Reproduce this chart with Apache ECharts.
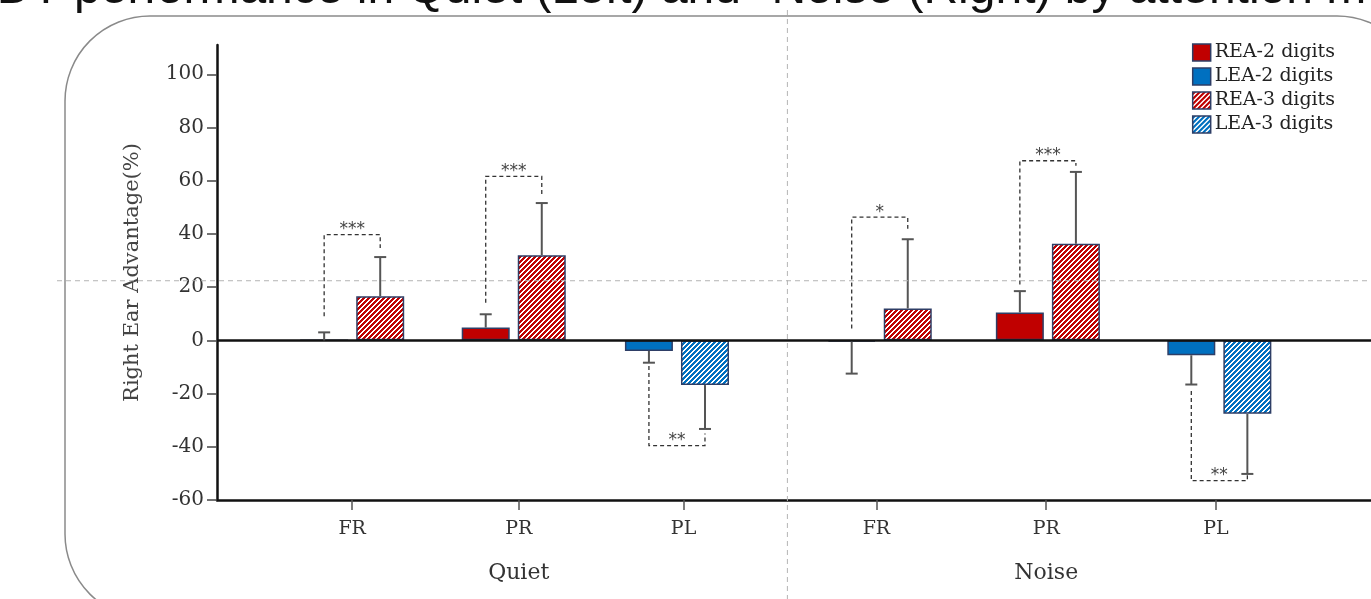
<!DOCTYPE html>
<html>
<head>
<meta charset="utf-8">
<script src="https://cdn.jsdelivr.net/npm/echarts@6/dist/echarts.min.js"></script>
<style>
  html, body { margin: 0; padding: 0; background: #fff; }
  #chart { width: 1371px; height: 599px; }
</style>
</head>
<body>
<div id="chart"></div>
<script>
// Right-ear advantage (%) in the dichotic digits test, by listening condition and attention mode.
const conditions = ['Quiet', 'Noise'];
const modes = ['FR', 'PR', 'PL'];
const seriesNames = ['REA-2 digits', 'LEA-2 digits', 'REA-3 digits', 'LEA-3 digits'];

// Bar order: Quiet FR, PR, PL, Noise FR, PR, PL (null = no bar in that slot)
const rea2Mean = [0, 4.8, null, -0.5, 10.5, null];
const rea2Sd   = [3.0, 5.0, null, 12.0, 8.0, null];
const lea2Mean = [null, null, -4.0, null, null, -5.6];
const lea2Sd   = [null, null, 4.4, null, null, 11.0];
const rea3Mean = [16.6, 32.0, null, 12.0, 36.3, null];
const rea3Sd   = [14.7, 19.6, null, 26.0, 27.0, null];
const lea3Mean = [null, null, -16.8, null, null, -27.6];
const lea3Sd   = [null, null, 16.5, null, null, 22.6];

// Significance brackets between the 2-digit and 3-digit bars of each slot
const sigLabel    = ['***', '***', '**', '*', '***', '**'];
const sigLevel    = [39.7, 61.6, -39.6, 46.3, 67.5, -52.7];
const sigLeftEnd  = [9.1, 14.1, -9.6, 4.5, 21.0, -19.0];
const sigRightEnd = [34.7, 54.7, -35.0, 41.9, 65.6, -49.6];

const yTicks = [-60, -40, -20, 0, 20, 40, 60, 80, 100];

// ---- layout along the x scale (0..X_MAX) ----
const X_MAX = 7;
const tickPos = [0.82, 1.83, 2.83, 4.00, 5.03, 6.06];
const slotPos = [0.82, 1.80, 2.79, 4.02, 5.04, 6.08];
const pairOffset = 0.17;
const dividerPos = 3.46;
const guideLevel = 22.4;

const RED = '#c00000';
const BLUE = '#0070c0';
const EDGE = '#2e3e66';
const SERIF = '"DejaVu Serif", serif';

// diagonal "////" stripes used for the 3-digit bars
function hatch(rgb) {
  const s = 5;
  const c = document.createElement('canvas');
  c.width = s; c.height = s;
  const g = c.getContext('2d');
  const img = g.createImageData(s, s);
  for (let y = 0; y < s; y++) {
    for (let x = 0; x < s; x++) {
      const i = (y * s + x) * 4;
      const on = (x + y) % s < 3;
      img.data[i] = on ? rgb[0] : 255;
      img.data[i + 1] = on ? rgb[1] : 255;
      img.data[i + 2] = on ? rgb[2] : 255;
      img.data[i + 3] = 255;
    }
  }
  g.putImageData(img, 0, 0);
  return { image: c, repeat: 'repeat' };
}

function bars(means, side) {
  const out = [];
  means.forEach((m, i) => {
    if (m != null) out.push([slotPos[i] + side * pairOffset, m]);
  });
  return out;
}

const errorData = [];
[[rea2Mean, rea2Sd, -1], [lea2Mean, lea2Sd, -1], [rea3Mean, rea3Sd, 1], [lea3Mean, lea3Sd, 1]]
  .forEach(([means, sds, side]) => {
    means.forEach((m, i) => {
      if (m == null) return;
      const dir = m < 0 ? -1 : 1;
      errorData.push([slotPos[i] + side * pairOffset, m, m + dir * sds[i]]);
    });
  });

const sigData = sigLabel.map((_, i) => [
  slotPos[i] - pairOffset, slotPos[i] + pairOffset, sigLevel[i], sigLeftEnd[i], sigRightEnd[i]
]);

function tickIndex(v) {
  let best = 0;
  tickPos.forEach((t, i) => { if (Math.abs(t - v) < Math.abs(tickPos[best] - v)) best = i; });
  return best;
}

const chart = echarts.init(document.getElementById('chart'), null, { renderer: 'canvas' });

function barSeries(name, data, color) {
  return {
    type: 'bar', name, data,
    barWidth: 48, barGap: '-100%',
    itemStyle: { color, borderColor: EDGE, borderWidth: 1.5 },
    z: 2
  };
}

const rea2 = barSeries(seriesNames[0], bars(rea2Mean, -1), RED);
rea2.markLine = {
  silent: true, symbol: 'none', animation: false,
  label: { show: false },
  lineStyle: { color: '#111', width: 2.5, type: 'solid' },
  data: [{ yAxis: 0 }]
};

chart.setOption({
  animation: false,
  backgroundColor: '#fff',
  grid: { left: 217, right: 0, top: 45, bottom: 99, containLabel: false, outerBoundsMode: 'none' },
  legend: {
    data: seriesNames, orient: 'vertical', right: 31, top: 38,
    icon: 'rect', itemWidth: 18, itemHeight: 17, itemGap: 5,
    selectedMode: false,
    itemStyle: { borderColor: EDGE, borderWidth: 1.5 },
    textStyle: { fontFamily: SERIF, fontSize: 19, lineHeight: 19, color: '#222', padding: [0, 0, 0, -1] }
  },
  xAxis: {
    type: 'value', min: 0, max: X_MAX,
    splitLine: { show: false },
    axisLine: { show: true, onZero: false, lineStyle: { color: '#111', width: 2.5 } },
    axisTick: { show: true, customValues: tickPos, length: 10, lineStyle: { color: '#555', width: 1.5 } },
    axisLabel: {
      customValues: tickPos, margin: 17,
      fontFamily: SERIF, fontSize: 19, color: '#333', lineHeight: 24,
      formatter: (v) => {
        const i = tickIndex(v);
        const mode = modes[i % 3];
        return i % 3 === 1 ? mode + '\n{grp|' + conditions[Math.floor(i / 3)] + '}' : mode;
      },
      rich: { grp: { fontFamily: SERIF, fontSize: 22, color: '#333', lineHeight: 64 } }
    }
  },
  yAxis: {
    type: 'value', min: -60, max: 111,
    name: 'Right Ear Advantage(%)', nameLocation: 'middle', nameGap: 74,
    nameTextStyle: { fontFamily: SERIF, fontSize: 21, color: '#444' },
    splitLine: { show: false },
    axisLine: { show: true, lineStyle: { color: '#111', width: 2.5 } },
    axisTick: { show: true, customValues: yTicks, length: 10, lineStyle: { color: '#444', width: 1.5 } },
    axisLabel: { customValues: yTicks, margin: 13, fontFamily: SERIF, fontSize: 20, color: '#333' }
  },
  series: [
    rea2,
    barSeries(seriesNames[1], bars(lea2Mean, -1), BLUE),
    barSeries(seriesNames[2], bars(rea3Mean, 1), hatch([192, 0, 0])),
    barSeries(seriesNames[3], bars(lea3Mean, 1), hatch([0, 112, 192])),
    {
      type: 'custom', name: 'sd', silent: true, z: 5,
      data: errorData,
      encode: { x: 0, y: [1, 2] },
      renderItem(params, api) {
        const x = api.value(0);
        const a = api.coord([x, api.value(1)]);
        const b = api.coord([x, api.value(2)]);
        const cap = 6;
        const st = { stroke: '#555', lineWidth: 2 };
        return {
          type: 'group', children: [
            { type: 'line', shape: { x1: a[0], y1: a[1], x2: b[0], y2: b[1] }, style: st },
            { type: 'line', shape: { x1: b[0] - cap, y1: b[1], x2: b[0] + cap, y2: b[1] }, style: st }
          ]
        };
      }
    },
    {
      type: 'custom', name: 'sig', silent: true, z: 6,
      data: sigData,
      encode: { x: [0, 1], y: [2, 3, 4] },
      renderItem(params, api) {
        const xl = api.value(0), xr = api.value(1), lv = api.value(2);
        const p1 = api.coord([xl, api.value(3)]);
        const p2 = api.coord([xl, lv]);
        const p3 = api.coord([xr, lv]);
        const p4 = api.coord([xr, api.value(4)]);
        return {
          type: 'group', children: [
            {
              type: 'polyline', shape: { points: [p1, p2, p3, p4] },
              style: { stroke: '#333', lineWidth: 1.3, lineDash: [4, 3], fill: null }
            },
            {
              type: 'text', x: (p2[0] + p3[0]) / 2, y: p2[1] - 5,
              style: {
                text: sigLabel[params.dataIndex], fill: '#444',
                font: '17px "DejaVu Sans", sans-serif', align: 'center', verticalAlign: 'middle'
              }
            }
          ]
        };
      }
    }
  ]
});

// frame, guide lines and heading around the plot
const divX = chart.convertToPixel({ xAxisIndex: 0 }, dividerPos);
const guideY = chart.convertToPixel({ yAxisIndex: 0 }, guideLevel);
const titleText = 'DDT performance in Quiet (Left) and "Noise (Right) by attention mode';
const titleFont = '48px "Liberation Sans", Arial, sans-serif';
const mctx = document.createElement('canvas').getContext('2d');
mctx.font = titleFont;
const lead = mctx.measureText('DDT ').width;

chart.setOption({
  graphic: [
    {
      type: 'rect', silent: true, z: 0,
      shape: { x: 65, y: 16, width: 1357, height: 603, r: 85 },
      style: { fill: null, stroke: '#8a8a8a', lineWidth: 1.5 }
    },
    {
      type: 'line', silent: true, z: 20,
      shape: { x1: divX, y1: 10, x2: divX, y2: 599 },
      style: { stroke: '#b4b4b4', lineWidth: 1, lineDash: [5, 4] }
    },
    {
      type: 'line', silent: true, z: 20,
      shape: { x1: 57, y1: guideY, x2: 1371, y2: guideY },
      style: { stroke: '#b4b4b4', lineWidth: 1, lineDash: [5, 4] }
    },
    {
      type: 'text', silent: true, z: 20,
      x: 74 - lead, y: -10,
      style: { text: titleText, font: titleFont, fill: '#111', align: 'left', verticalAlign: 'middle' }
    }
  ]
});
</script>
</body>
</html>
